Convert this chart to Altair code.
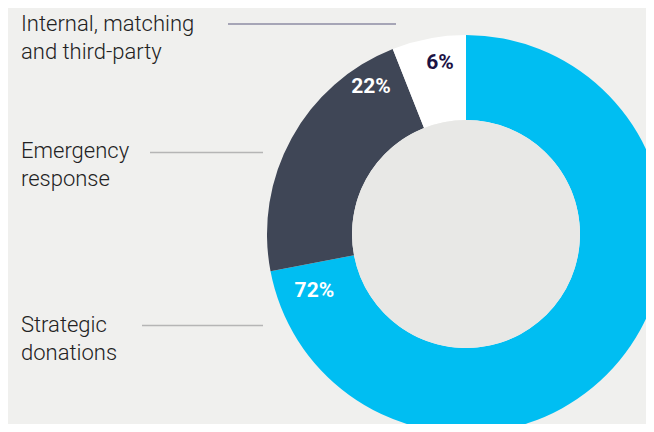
import altair as alt
import pandas as pd

categories = ["Strategic donations", "Emergency response", "Internal, matching and third-party"]
shares = [72, 22, 6]
labels = ["72%", "22%", "6%"]
order = [0, 1, 2]
colors = ["#00bef2", "#3f4656", "#ffffff"]

df = pd.DataFrame({"category": categories, "share": shares, "label": labels, "order": order})

CX, CY = 458, 226
R_OUT, R_IN = 199, 114

theta_scale = alt.Scale(domain=[0, 100])

ring = alt.Chart(df).mark_arc(outerRadius=R_OUT, innerRadius=R_IN, strokeWidth=0).encode(
    theta=alt.Theta("share:Q", stack=True, scale=theta_scale),
    order=alt.Order("order:Q"),
    x=alt.value(CX), y=alt.value(CY),
    color=alt.Color("category:N", scale=alt.Scale(domain=categories, range=colors), legend=None),
)

hole = alt.Chart(pd.DataFrame({"v": [1]})).mark_circle(
    size=(2 * R_IN) ** 2, color="#e8e8e6", opacity=1, strokeWidth=0
).encode(x=alt.value(CX), y=alt.value(CY))

lab_base = alt.Chart(df).transform_window(
    cum="sum(share)", sort=[alt.SortField("order")]
).transform_calculate(mid="datum.cum - datum.share / 2")

def pct(cat, off, rad, col):
    return lab_base.transform_filter(alt.datum.category == cat).mark_text(
        radius=rad, thetaOffset=off, font="Roboto", fontWeight="bold", fontSize=21,
        color=col, align="center", baseline="middle"
    ).encode(
        theta=alt.Theta("mid:Q", stack=None, scale=theta_scale),
        text="label:N", x=alt.value(CX), y=alt.value(CY)
    )

t1 = pct(categories[0], 2.09, 162, "#ffffff")
t2 = pct(categories[1], 0.494, 175, "#ffffff")
t3 = pct(categories[2], 0.038, 173, "#1b1244")

ann_text = ["Internal, matching\nand third-party", "Emergency\nresponse", "Strategic\ndonations"]

def ann(txt, y):
    return alt.Chart(pd.DataFrame({"t": [txt]})).mark_text(
        font="Roboto", fontWeight=300, fontSize=22, lineHeight=28, color="#222222",
        align="left", baseline="alphabetic", lineBreak="\n"
    ).encode(text="t:N", x=alt.value(13), y=alt.value(y))

def rule(x1, x2, y, col):
    return alt.Chart(pd.DataFrame({"a": [0]})).mark_rule(color=col, strokeWidth=1.3).encode(
        x=alt.value(x1), x2=alt.value(x2), y=alt.value(y)
    )

chart = alt.layer(
    ring, hole, t1, t2, t3,
    ann(ann_text[0], 23), ann(ann_text[1], 150), ann(ann_text[2], 324),
    rule(220, 388, 16, "#8e8ca3"), rule(142, 255, 144.5, "#b5b5b5"), rule(134, 255, 317.5, "#b5b5b5"),
).properties(
    width=638, height=416, background="#f0f0ee", padding=0, autosize=alt.AutoSizeParams(type="none")
).configure_view(stroke=None)

chart.save("out.html", embed_options={"renderer": "svg", "actions": False})
